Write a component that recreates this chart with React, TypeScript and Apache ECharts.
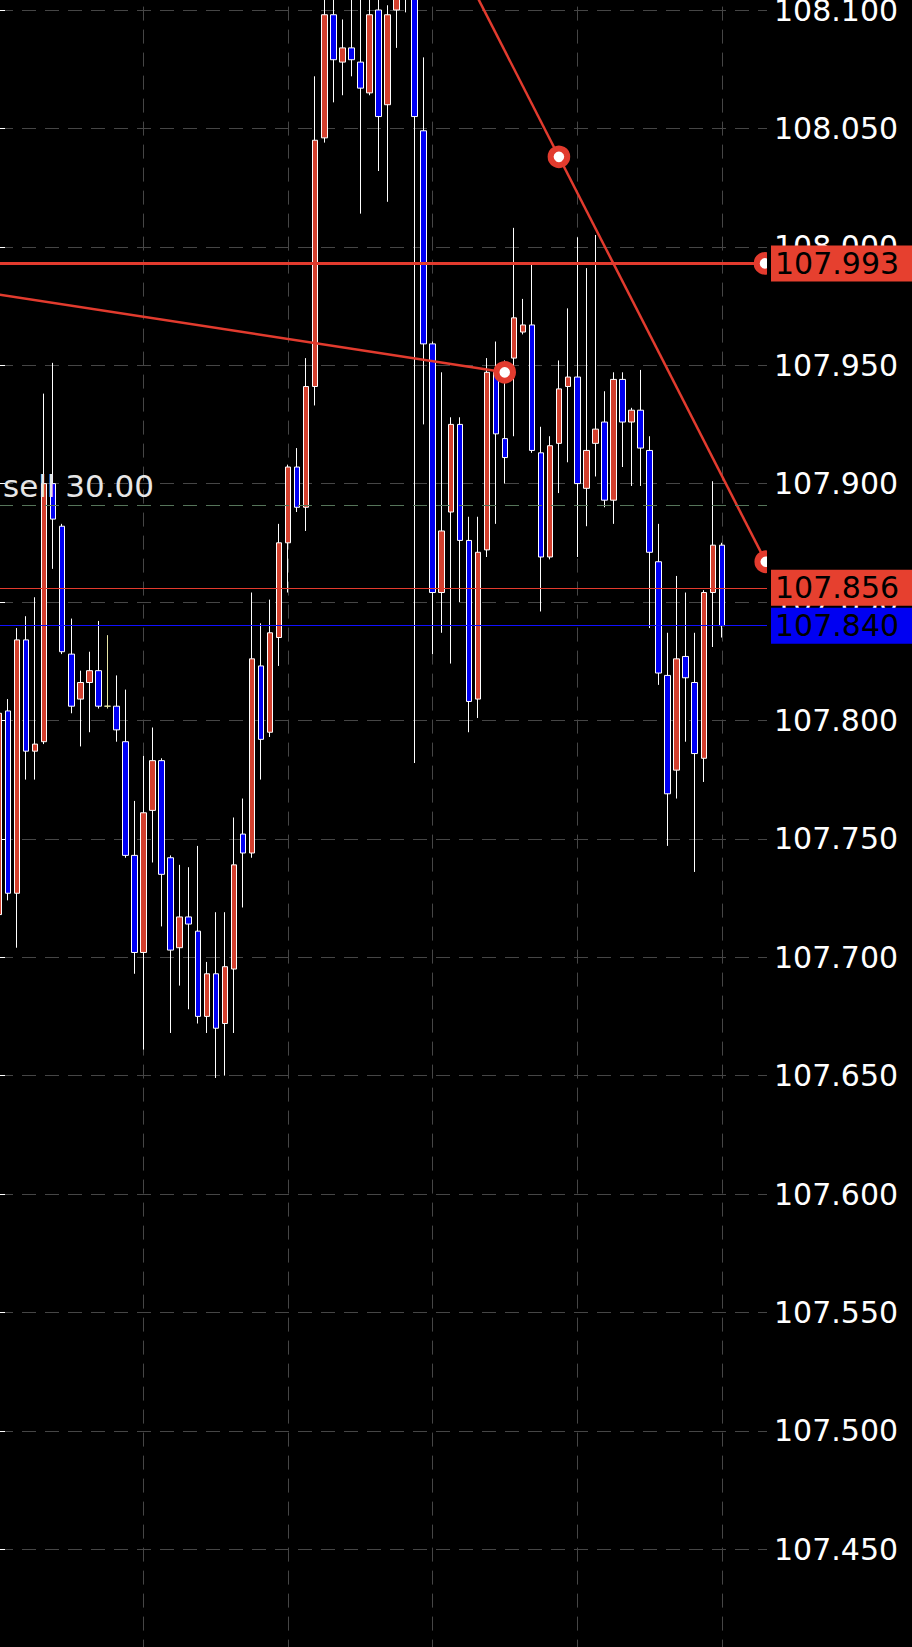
import React, { useEffect, useRef } from "react";
import * as echarts from "echarts";

// ---- data -------------------------------------------------------------
const slots = [
  "0","1","2","3","4","5","6","7","8","9","10","11","12","13","14","15","16","17","18","19",
  "20","21","22","23","24","25","26","27","28","29","30","31","32","33","34","35","36","37","38","39",
  "40","41","42","43","44","45","46","47","48","49","50","51","52","53","54","55","56","57","58","59",
  "60","61","62","63","64","65","66","67","68","69","70","71","72","73","74","75","76","77","78","79",
  "80","81","82","83","84","85",
];

const opens = [
  107.718, 107.804, 107.727, 107.834, 107.787, 107.791, 107.900, 107.882, 107.828, 107.809,
  107.816, 107.821, 107.806, 107.806, 107.791, 107.743, 107.702, 107.762, 107.783, 107.742,
  107.704, 107.717, 107.711, 107.675, 107.693, 107.672, 107.695, 107.752, 107.744, 107.823,
  107.795, 107.835, 107.875, 107.907, 107.890, 107.941, 108.046, 108.098, 108.078, 108.084,
  108.078, 108.065, 108.100, 108.060, 108.100, 108.118, 108.110, 108.049, 107.959, 107.854,
  107.888, 107.925, 107.876, 107.809, 107.872, 107.947, 107.919, 107.953, 107.964, 107.967,
  107.913, 107.869, 107.917, 107.941, 107.945, 107.898, 107.917, 107.926, 107.893, 107.944,
  107.926, 107.931, 107.914, 107.867, 107.819, 107.779, 107.827, 107.816, 107.784, 107.854,
  107.874,
];
const closes = [
  107.803, 107.727, 107.834, 107.787, 107.790, 107.900, 107.885, 107.829, 107.806, 107.816,
  107.821, 107.806, 107.806, 107.796, 107.743, 107.702, 107.761, 107.783, 107.735, 107.703,
  107.717, 107.714, 107.675, 107.693, 107.670, 107.696, 107.739, 107.744, 107.826, 107.792,
  107.837, 107.875, 107.907, 107.890, 107.941, 108.045, 108.098, 108.079, 108.084, 108.079,
  108.067, 108.098, 108.055, 108.098, 108.106, 108.110, 108.055, 107.959, 107.854, 107.880,
  107.925, 107.876, 107.808, 107.871, 107.947, 107.921, 107.911, 107.970, 107.967, 107.914,
  107.869, 107.916, 107.940, 107.945, 107.900, 107.914, 107.923, 107.893, 107.944, 107.926,
  107.931, 107.915, 107.871, 107.820, 107.769, 107.826, 107.818, 107.786, 107.854, 107.874,
  107.840,
];
const lows = [
  107.715, 107.724, 107.704, 107.775, 107.775, 107.790, 107.864, 107.828, 107.803, 107.789,
  107.795, 107.805, 107.805, 107.791, 107.742, 107.693, 107.661, 107.740, 107.713, 107.668,
  107.688, 107.678, 107.672, 107.668, 107.649, 107.650, 107.668, 107.721, 107.742, 107.775,
  107.793, 107.823, 107.854, 107.888, 107.880, 107.933, 108.044, 108.061, 108.064, 108.072,
  108.014, 108.064, 108.032, 108.019, 108.084, 108.099, 107.782, 107.925, 107.828, 107.837,
  107.824, 107.850, 107.795, 107.801, 107.869, 107.883, 107.900, 107.920, 107.963, 107.913,
  107.846, 107.868, 107.896, 107.909, 107.869, 107.882, 107.903, 107.890, 107.883, 107.907,
  107.899, 107.899, 107.839, 107.815, 107.747, 107.767, 107.791, 107.736, 107.774, 107.831,
  107.835,
];
const highs = [
  107.877, 107.809, 107.839, 107.844, 107.852, 107.938, 107.951, 107.883, 107.843, 107.821,
  107.829, 107.842, 107.836, 107.819, 107.813, 107.766, 107.785, 107.797, 107.784, 107.743,
  107.739, 107.738, 107.747, 107.698, 107.719, 107.719, 107.759, 107.767, 107.854, 107.841,
  107.851, 107.883, 107.908, 107.915, 107.953, 108.072, 108.108, 108.106, 108.096, 108.106,
  108.106, 108.108, 108.108, 108.102, 108.109, 108.126, 108.115, 108.080, 107.960, 107.947,
  107.928, 107.928, 107.886, 107.886, 107.953, 107.960, 107.952, 108.008, 107.978, 107.993,
  107.924, 107.920, 107.952, 107.974, 108.004, 107.991, 108.005, 107.939, 107.947, 107.947,
  107.932, 107.948, 107.920, 107.883, 107.837, 107.861, 107.854, 107.837, 107.855, 107.901,
  107.875,
];

// price axis
const priceMin = 107.4;
const priceMax = 108.15;
const priceStep = 0.05;

// horizontal levels
const levelPrice = 107.993;
const askPrice = 107.856;
const bidPrice = 107.84;
const sellPrice = 107.891;
const sellText = "sell 30.00";

// trend lines [slot, price]
const trendSteep = [
  [39.08, 108.209],
  [84.86, 107.867],
];
const trendFlat = [
  [-60, 108.015],
  [55.97, 107.947],
];
const handles = [
  [61.97, 108.038],
  [84.86, 107.867],
  [55.97, 107.947],
  [84.78, 107.993],
];

// ---- styles -------------------------------------------------------------
const CANDLE_RED = "#d3402e";
const CANDLE_BLUE = "#0000f2";
const LINE_RED = "#e23b2e";
const BOX_RED = "#e6402f";
const BOX_BLUE = "#0000f2";
const GRID = "#464646";
const FONT = "DejaVu Sans";

export default function App() {
  const ref = useRef<HTMLDivElement>(null);

  useEffect(() => {
    document.body.style.margin = "0";
    document.body.style.background = "#000";
    const chart = echarts.init(ref.current!, undefined, { renderer: "svg" });
    const candles = opens.map((o, i) => [o, closes[i], lows[i], highs[i]]);

    const boxLabel = (bg: string, price: number) => ({
      show: true,
      position: "end",
      distance: 4,
      formatter: () => price.toFixed(3),
      backgroundColor: bg,
      color: "#000",
      fontFamily: FONT,
      fontSize: 30,
      lineHeight: 30,
      padding: [3, 30, 3, 4],
    });

    chart.setOption({
      animation: false,
      backgroundColor: "#000",
      grid: {
        left: -1,
        right: 145,
        top: -108.4,
        bottom: -20.6,
        outerBoundsMode: "none",
        containLabel: false,
      },
      xAxis: [
        {
          type: "category",
          data: slots,
          boundaryGap: false,
          axisLine: { show: false },
          axisTick: { show: false },
          axisLabel: { show: false },
          splitLine: {
            show: true,
            interval: 15,
            lineStyle: { color: GRID, type: [14, 9], width: 1 },
          },
        },
        { type: "value", min: 0, max: 85, show: false },
      ],
      yAxis: {
        type: "value",
        position: "right",
        min: priceMin,
        max: priceMax,
        interval: priceStep,
        axisLine: { show: true, lineStyle: { color: "#fff", width: 1 } },
        axisTick: { show: true, length: 6, lineStyle: { color: "#fff" } },
        axisLabel: {
          color: "#fff",
          fontFamily: FONT,
          fontSize: 30,
          margin: 7,
          formatter: (v: number) => v.toFixed(3),
        },
        splitLine: { show: true, lineStyle: { color: GRID, type: [14, 9], width: 1 } },
      },
      series: [
        {
          type: "line",
          data: [],
          z: 1,
          silent: true,
          markLine: {
            silent: true,
            precision: 3,
            symbol: ["none", "none"],
            animation: false,
            data: [
              {
                yAxis: sellPrice,
                lineStyle: { color: "#56755a", width: 1, type: [14, 9] },
                label: {
                  show: true,
                  position: "insideStartTop",
                  distance: [4, 3],
                  formatter: sellText,
                  color: "#e6e6e6",
                  fontFamily: FONT,
                  fontSize: 31,
                },
              },
              {
                yAxis: askPrice,
                lineStyle: { color: LINE_RED, width: 1, type: "solid" },
                label: boxLabel(BOX_RED, askPrice),
              },
              {
                yAxis: bidPrice,
                lineStyle: { color: "#1010ff", width: 1, type: "solid" },
                label: boxLabel(BOX_BLUE, bidPrice),
              },
            ],
          },
        },
        {
          type: "candlestick",
          data: candles,
          z: 2,
          barWidth: 6,
          silent: true,
          itemStyle: {
            color: CANDLE_RED,
            color0: CANDLE_BLUE,
            borderColor: "#fff",
            borderColor0: "#fff",
            borderColorDoji: "#e8e6a6",
            borderWidth: 1,
          },
        },
        {
          type: "line",
          data: [],
          z: 3,
          silent: true,
          markLine: {
            silent: true,
            precision: 3,
            symbol: ["none", "none"],
            animation: false,
            data: [
              {
                yAxis: levelPrice,
                lineStyle: { color: LINE_RED, width: 3, type: "solid" },
                label: boxLabel(BOX_RED, levelPrice),
              },
            ],
          },
        },
        {
          type: "line",
          xAxisIndex: 1,
          data: trendSteep,
          showSymbol: false,
          clip: true,
          z: 4,
          silent: true,
          lineStyle: { color: LINE_RED, width: 2.5 },
        },
        {
          type: "line",
          xAxisIndex: 1,
          data: trendFlat,
          showSymbol: false,
          clip: true,
          z: 4,
          silent: true,
          lineStyle: { color: LINE_RED, width: 2.5 },
        },
        {
          type: "custom",
          xAxisIndex: 1,
          data: handles,
          clip: true,
          z: 5,
          silent: true,
          encode: { x: 0, y: 1 },
          renderItem: (_params: any, api: any) => {
            const p = api.coord([api.value(0), api.value(1)]);
            return {
              type: "circle",
              shape: { cx: p[0], cy: p[1], r: 8.3 },
              style: { fill: "#fff", stroke: LINE_RED, lineWidth: 6 },
            };
          },
        },
      ],
    });

    return () => chart.dispose();
  }, []);

  return (
    <div
      ref={ref}
      style={{
        position: "absolute",
        left: 0,
        top: 0,
        width: 912,
        height: 1647,
        background: "#000",
      }}
    />
  );
}
